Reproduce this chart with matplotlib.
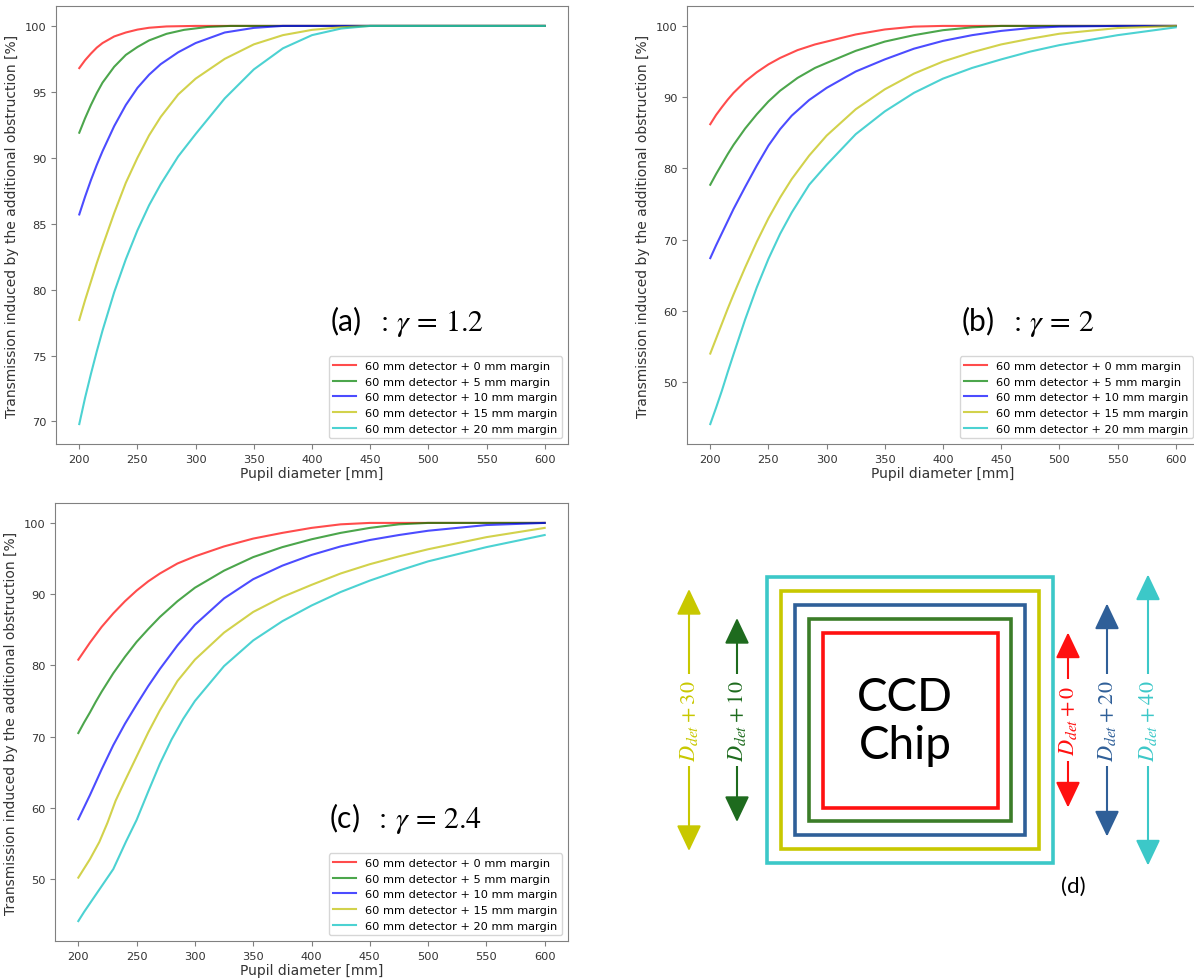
import numpy as np
import matplotlib.pyplot as plt

plt.rcParams['mathtext.fontset'] = 'stix'
plt.rcParams['axes.edgecolor'] = '#808080'
plt.rcParams['xtick.color'] = '#808080'
plt.rcParams['ytick.color'] = '#808080'
plt.rcParams['xtick.labelcolor'] = '#333333'
plt.rcParams['ytick.labelcolor'] = '#333333'
plt.rcParams['axes.labelcolor'] = '#333333'

labels = ['60 mm detector + 0 mm margin', '60 mm detector + 5 mm margin',
          '60 mm detector + 10 mm margin', '60 mm detector + 15 mm margin',
          '60 mm detector + 20 mm margin']
colors = ['r', 'g', 'b', 'y', 'c']

# (a) gamma = 1.2
a_red_x = [200, 205, 210, 215, 220, 230, 240, 250, 260, 275, 300, 600]
a_red_y = [96.8, 97.4, 97.9, 98.35, 98.7, 99.2, 99.5, 99.72, 99.86, 99.96, 100, 100]
a_green_x = [200, 205, 210, 215, 220, 230, 240, 250, 260, 275, 290, 310, 330, 600]
a_green_y = [91.9, 93.0, 94.0, 94.9, 95.7, 96.9, 97.8, 98.4, 98.9, 99.4, 99.7, 99.92, 100, 100]
a_blue_x = [200, 205, 210, 215, 220, 230, 240, 250, 260, 270, 285, 300, 325, 350, 375, 600]
a_blue_y = [85.7, 87.05, 88.3, 89.45, 90.5, 92.4, 94.0, 95.3, 96.3, 97.1, 98.0, 98.7, 99.5, 99.85, 100, 100]
a_yellow_x = [200, 205, 210, 215, 220, 230, 240, 250, 260, 270, 285, 300, 325, 350, 375, 400, 425, 450, 600]
a_yellow_y = [77.7, 79.2, 80.6, 82.0, 83.3, 85.8, 88.1, 90.0, 91.7, 93.1, 94.8, 96.0, 97.5, 98.6, 99.3, 99.7, 99.9, 100, 100]
a_cyan_x = [200, 205, 210, 215, 220, 230, 240, 250, 260, 270, 285, 300, 325, 350, 375, 400, 425, 450, 600]
a_cyan_y = [69.8, 71.8, 73.6, 75.3, 76.9, 79.8, 82.3, 84.5, 86.4, 88.0, 90.1, 91.8, 94.5, 96.7, 98.3, 99.3, 99.8, 100, 100]

# (b) gamma = 2
b_red_x = [200, 205, 210, 215, 220, 230, 240, 250, 260, 275, 290, 300, 325, 350, 375, 400, 600]
b_red_y = [86.2, 87.5, 88.6, 89.65, 90.6, 92.2, 93.5, 94.6, 95.5, 96.6, 97.4, 97.8, 98.8, 99.5, 99.9, 100, 100]
b_green_x = [200, 205, 210, 215, 220, 230, 240, 250, 260, 275, 290, 300, 325, 350, 375, 400, 425, 450, 600]
b_green_y = [77.7, 79.2, 80.6, 82.0, 83.3, 85.6, 87.6, 89.4, 90.9, 92.7, 94.1, 94.8, 96.5, 97.8, 98.7, 99.4, 99.8, 100, 100]
b_blue_x = [200, 205, 210, 215, 220, 230, 240, 250, 260, 270, 285, 300, 325, 350, 375, 400, 425, 450, 475, 500, 550, 600]
b_blue_y = [67.4, 69.2, 70.9, 72.6, 74.3, 77.4, 80.4, 83.2, 85.5, 87.4, 89.6, 91.3, 93.6, 95.3, 96.8, 97.9, 98.7, 99.3, 99.7, 99.9, 100, 100]
b_yellow_x = [200, 205, 210, 215, 220, 230, 240, 250, 260, 270, 285, 300, 325, 350, 375, 400, 425, 450, 475, 500, 550, 600]
b_yellow_y = [54.0, 56.1, 58.2, 60.3, 62.3, 66.1, 69.7, 73.0, 75.9, 78.5, 81.8, 84.6, 88.3, 91.1, 93.3, 95.0, 96.3, 97.4, 98.2, 98.9, 99.7, 100]
b_cyan_x = [200, 205, 210, 215, 220, 230, 240, 250, 260, 270, 285, 300, 325, 350, 375, 400, 425, 450, 475, 500, 550, 600]
b_cyan_y = [44.1, 46.4, 48.8, 51.4, 53.9, 58.8, 63.3, 67.3, 70.8, 73.8, 77.7, 80.5, 84.8, 88.0, 90.6, 92.6, 94.1, 95.3, 96.4, 97.3, 98.7, 99.8]

# (c) gamma = 2.4
c_red_x = [200, 205, 210, 215, 220, 230, 240, 250, 260, 270, 285, 300, 325, 350, 375, 400, 425, 450, 600]
c_red_y = [80.8, 82.0, 83.2, 84.3, 85.4, 87.3, 89.0, 90.5, 91.8, 92.9, 94.3, 95.3, 96.7, 97.8, 98.6, 99.3, 99.8, 100, 100]
c_green_x = [200, 205, 210, 215, 220, 230, 240, 250, 260, 270, 285, 300, 325, 350, 375, 400, 425, 450, 475, 500, 600]
c_green_y = [70.5, 72.0, 73.4, 74.9, 76.3, 78.9, 81.2, 83.3, 85.1, 86.8, 89.0, 90.9, 93.3, 95.2, 96.6, 97.7, 98.6, 99.3, 99.8, 100, 100]
c_blue_x = [200, 205, 210, 215, 220, 230, 240, 250, 260, 270, 285, 300, 325, 350, 375, 400, 425, 450, 475, 500, 550, 600]
c_blue_y = [58.4, 60.1, 61.8, 63.6, 65.4, 68.8, 71.8, 74.5, 77.1, 79.5, 82.8, 85.7, 89.4, 92.1, 94.0, 95.5, 96.7, 97.6, 98.3, 98.9, 99.7, 100]
c_yellow_x = [200, 205, 210, 218, 225, 232, 240, 250, 260, 270, 285, 300, 325, 350, 375, 400, 425, 450, 475, 500, 550, 600]
c_yellow_y = [50.2, 51.5, 52.8, 55.2, 57.9, 61.0, 63.8, 67.2, 70.6, 73.7, 77.8, 80.8, 84.6, 87.5, 89.6, 91.3, 92.9, 94.2, 95.3, 96.3, 98.0, 99.3]
c_cyan_x = [200, 205, 210, 220, 230, 241, 250, 260, 270, 280, 290, 300, 325, 350, 375, 400, 425, 450, 475, 500, 550, 600]
c_cyan_y = [44.1, 45.4, 46.6, 49.0, 51.4, 55.3, 58.3, 62.3, 66.2, 69.6, 72.5, 75.0, 79.9, 83.5, 86.2, 88.4, 90.3, 91.9, 93.3, 94.6, 96.6, 98.3]

panels = [
    ([(a_red_x, a_red_y), (a_green_x, a_green_y), (a_blue_x, a_blue_y),
      (a_yellow_x, a_yellow_y), (a_cyan_x, a_cyan_y)], '(a)', '1.2'),
    ([(b_red_x, b_red_y), (b_green_x, b_green_y), (b_blue_x, b_blue_y),
      (b_yellow_x, b_yellow_y), (b_cyan_x, b_cyan_y)], '(b)', '2'),
    ([(c_red_x, c_red_y), (c_green_x, c_green_y), (c_blue_x, c_blue_y),
      (c_yellow_x, c_yellow_y), (c_cyan_x, c_cyan_y)], '(c)', '2.4'),
]

# (d) diagram: margins around the 60 mm chip
chip_margin = [0, 10, 20, 30, 40]
box_colors = ['#ff1010', '#3c7d28', '#2f5f98', '#c8c800', '#3cc8c8']
arrow_colors = ['#ff1010', '#1e6b1e', '#2f5f98', '#c8c800', '#3cc8c8']
arrow_x = [1068, 737, 1107, 689, 1148]

W, H = 1194, 979
fig = plt.figure(figsize=(W / 100, H / 100), dpi=100)

def px_axes(left, top, right, bottom):
    return fig.add_axes([left / W, 1 - bottom / H, (right - left) / W, (bottom - top) / H])

ax_a = px_axes(56, 7, 568, 445)
ax_b = px_axes(687, 7, 1199, 445)
ax_c = px_axes(55, 504, 568, 942)

for ax, (curves, tag, gam) in zip([ax_a, ax_b, ax_c], panels):
    for (x, y), col, lab in zip(curves, colors, labels):
        ax.plot(x, y, color=col, alpha=0.7, lw=1.5, label=lab)
    ax.set_xticks(np.arange(200, 601, 50))
    ax.tick_params(labelsize=8.2)
    ax.set_xlabel('Pupil diameter [mm]', fontsize=10, labelpad=2)
    ax.set_ylabel('Transmission induced by the additional obstruction [%]', fontsize=10)
    ax.legend(loc='lower right', fontsize=8.2)
    ax.text(0.535, 0.282, tag + r'  $:\,\gamma\, =\, ' + gam + '$', transform=ax.transAxes,
            fontsize=21.5, family='Lato', ha='left', va='center', color='black')

ax_d = px_axes(600, 480, 1194, 979)
ax_d.set_xlim(600, 1194)
ax_d.set_ylim(979, 480)
ax_d.axis('off')

cx, cy = 910, 721
for m, col in zip(chip_margin, box_colors):
    s = 175 + 2.77 * m
    ax_d.add_patch(plt.Rectangle((cx - s / 2, cy - s / 2), s, s, fill=False,
                                 edgecolor=col, lw=2.6, zorder=4))

for m, col, xa in zip(chip_margin, arrow_colors, arrow_x):
    s = 175 + 2.9 * m
    ax_d.annotate('', xy=(xa, cy - s / 2), xytext=(xa, cy + s / 2),
                  arrowprops=dict(arrowstyle='<|-|>,head_length=0.8,head_width=0.38',
                                  mutation_scale=20, color=col, lw=1.5,
                                  shrinkA=0, shrinkB=0), zorder=1)
    ax_d.text(xa, cy, r'$D_{det}+%d$' % m, rotation=90, color=col, fontsize=16,
              ha='center', va='center', zorder=2,
              bbox=dict(boxstyle='square,pad=0.25', fc='white', ec='none'))

ax_d.text(905, 722, 'CCD\nChip', fontsize=33, family='Lato', ha='center', va='center',
          linespacing=1.2, zorder=5)
ax_d.text(1073, 887, '(d)', fontsize=16, family='Lato', ha='center', va='center')

fig.savefig('out.png', dpi=100)
